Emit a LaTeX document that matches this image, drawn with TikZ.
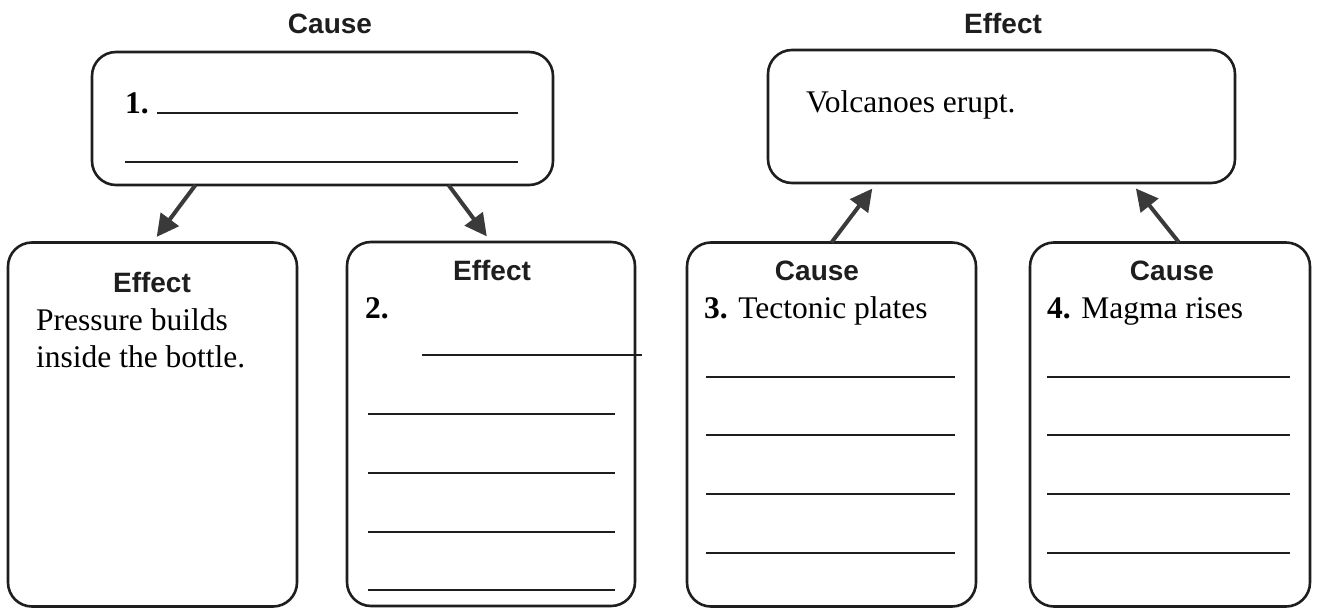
\documentclass[tikz,border=0pt]{standalone}
\usepackage{fontspec}
\setmainfont{Liberation Serif}
\newfontfamily\hdrfont{Liberation Sans}
\usetikzlibrary{arrows.meta}
\definecolor{ink}{HTML}{1E1E1E}
\definecolor{arrowgray}{HTML}{3A3A3A}
\begin{document}
\begin{tikzpicture}[x=1pt,y=-1pt,
  box/.style={draw=ink, line width=2.6pt, rounded corners=24pt, inner sep=0pt, outer sep=0pt},
  hdr/.style={font=\hdrfont\bfseries\fontsize{28}{33}\selectfont, text=ink, inner sep=0pt, anchor=base},
  txt/.style={font=\fontsize{31.5}{37}\selectfont, text=black, inner sep=0pt, anchor=base west},
  blank/.style={draw=ink, line width=1.6pt},
  arr/.style={draw=arrowgray, line width=4pt, -{Triangle[length=22pt,width=22pt]}, shorten >=7pt}]
\useasboundingbox[fill=white] (0,0) rectangle (1317,613);

% top headers
\node[hdr] (hcause) at (330,33) {Cause};
\node[hdr] (heffect) at (1003,33) {Effect};

% top boxes
\node[box, minimum width=461pt, minimum height=133pt] (topL) at (322.5,118.5) {};
\node[box, minimum width=467pt, minimum height=133pt] (topR) at (1001.5,116.5) {};

% bottom boxes
\node[box, minimum width=289pt, minimum height=364pt] (b1) at (152.5,424.5) {};
\node[box, minimum width=288pt, minimum height=364pt] (b2) at (491,424) {};
\node[box, minimum width=289pt, minimum height=364pt] (b3) at (831.5,424.5) {};
\node[box, minimum width=280pt, minimum height=364pt] (b4) at (1170,424.5) {};

% top-left content
\node[txt] (n1) at (125,113) {\textbf{1.}};
\draw[blank] (157,113) -- (518,113);
\draw[blank] (125,162) -- (518,162);

% top-right content
\node[txt] (volc) at (806,112) {Volcanoes erupt.};

% box 1
\node[hdr] (e1) at (152,292) {Effect};
\node[txt] (p1) at (36,330) {Pressure builds};
\node[txt] (p2) at (36,367) {inside the bottle.};

% box 2
\node[hdr] (e2) at (492,280) {Effect};
\node[txt] (n2) at (365,318) {\textbf{2.}};
\draw[blank] (422,355) -- (642,355);
\foreach \yy in {414,473,532,590} \draw[blank] (368,\yy) -- (615,\yy);

% box 3
\node[hdr] (c3) at (817,280) {Cause};
\node[txt] (n3) at (704,318) {\textbf{3.} Tectonic plates};
\foreach \yy in {377,435,494,553} \draw[blank] (706,\yy) -- (955,\yy);

% box 4
\node[hdr] (c4) at (1172,280) {Cause};
\node[txt] (n4) at (1047,318) {\textbf{4.} Magma rises};
\foreach \yy in {377,435,494,553} \draw[blank] (1047,\yy) -- (1290,\yy);

% arrows
\draw[arr] ([xshift=-127pt]topL.south) -- (b1.north);
\draw[arr] ([xshift=126pt]topL.south) -- (b2.north);
\draw[arr] (b3.north) -- ([xshift=-125pt]topR.south);
\draw[arr] ([xshift=9pt]b4.north) -- ([xshift=130pt]topR.south);
\end{tikzpicture}
\end{document}
